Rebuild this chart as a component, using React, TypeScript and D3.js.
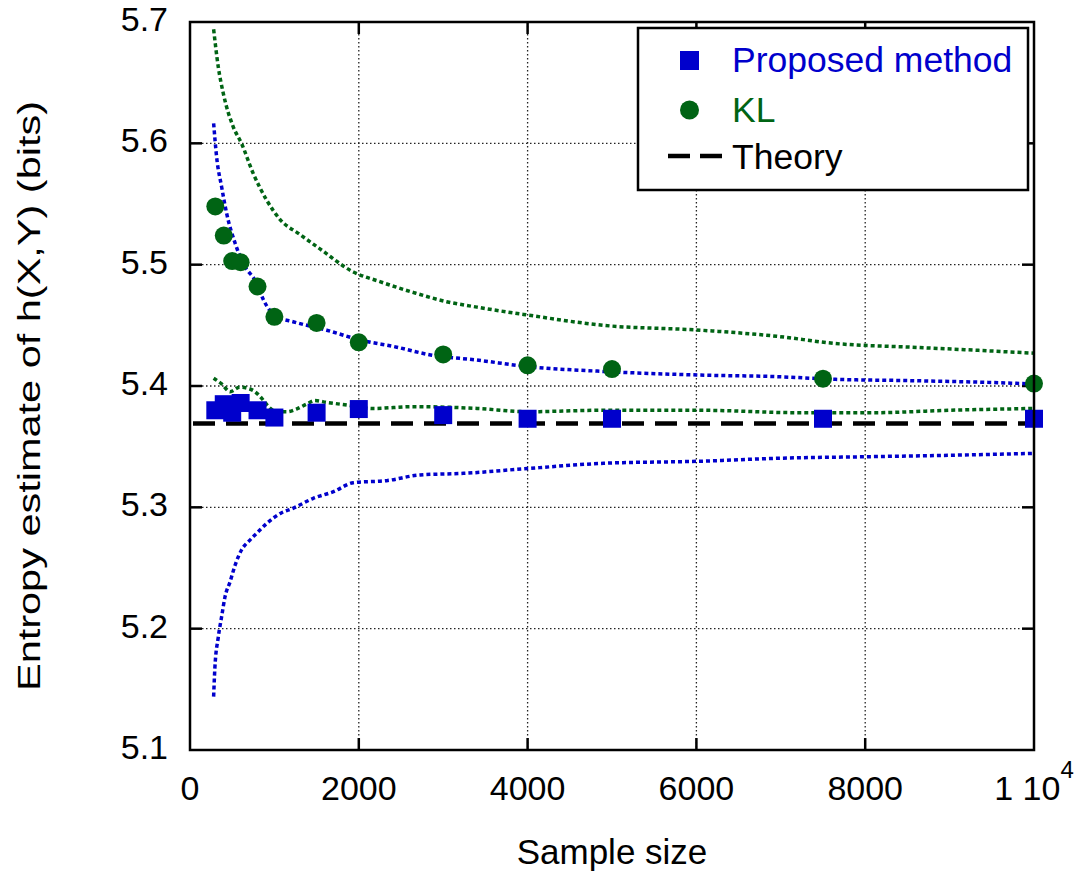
import React from "react";
import * as d3 from "d3";

// marker points
const sampleSizes = [300, 400, 500, 600, 800, 1000, 1500, 2000, 3000, 4000, 5000, 7500, 10000];
const proposedValues = [5.380, 5.385, 5.378, 5.386, 5.380, 5.374, 5.378, 5.381, 5.376, 5.373, 5.373, 5.373, 5.373];
const klValues = [5.548, 5.524, 5.503, 5.502, 5.482, 5.457, 5.452, 5.436, 5.426, 5.417, 5.414, 5.406, 5.402];
const theoryValue = 5.369;

// dotted bound curves
const klUpperN = [280, 335, 395, 510, 610, 750, 910, 1070, 1300, 1540, 1935, 2250, 2650, 3040, 3400, 4000, 4900, 6050, 6950, 7650, 8550, 9450, 10000];
const klUpperV = [5.694, 5.663, 5.641, 5.614, 5.600, 5.575, 5.553, 5.537, 5.525, 5.513, 5.494, 5.486, 5.477, 5.4695, 5.465, 5.4585, 5.450, 5.446, 5.441, 5.435, 5.432, 5.429, 5.427];

const blueUpperN = [280, 315, 375, 435, 535, 630, 790, 870, 1030, 1220, 1620, 2010, 2450, 2850, 3400, 4000, 4900, 6050, 6950, 7650, 8550, 9450, 10000];
const blueUpperV = [5.6165, 5.589, 5.564, 5.542, 5.5176, 5.501, 5.4846, 5.471, 5.457, 5.453, 5.446, 5.438, 5.432, 5.4256, 5.4214, 5.416, 5.412, 5.409, 5.4077, 5.4055, 5.4044, 5.403, 5.4017];

const klLowerN = [280, 375, 475, 590, 690, 770, 850, 930, 1030, 1150, 1260, 1380, 1480, 1620, 1860, 2170, 2650, 3400, 4000, 4900, 6050, 7200, 8100, 9000, 10000];
const klLowerV = [5.4064, 5.4017, 5.3953, 5.399, 5.398, 5.3953, 5.3898, 5.383, 5.3788, 5.3788, 5.381, 5.385, 5.388, 5.3865, 5.3843, 5.3815, 5.383, 5.3815, 5.3788, 5.380, 5.380, 5.378, 5.378, 5.380, 5.3815];

const blueLowerN = [280, 295, 335, 375, 415, 475, 535, 610, 710, 810, 910, 1070, 1220, 1460, 1700, 1935, 2330, 2725, 3240, 4000, 4900, 6050, 6950, 8100, 9000, 10000];
const blueLowerV = [5.144, 5.168, 5.193, 5.21, 5.2263, 5.2387, 5.2525, 5.2648, 5.273, 5.28, 5.2868, 5.295, 5.2992, 5.3074, 5.3129, 5.3203, 5.322, 5.3267, 5.328, 5.332, 5.3363, 5.338, 5.3404, 5.3418, 5.3429, 5.3445];

const xTicks = [0, 2000, 4000, 6000, 8000, 10000];
const yTicks = [5.1, 5.2, 5.3, 5.4, 5.5, 5.6, 5.7];

const BLUE = "#0000cc";
const GREEN = "#006414";
const FONT = "'Liberation Sans', Arial, sans-serif";

const margin = { top: 22, right: 52, bottom: 127, left: 190 };
const W = 1086;
const H = 877;

export default function App() {
  const x = d3.scaleLinear().domain([0, 10000]).range([margin.left, W - margin.right]);
  const y = d3.scaleLinear().domain([5.1, 5.7]).range([H - margin.bottom, margin.top]);
  const line = d3
    .line<[number, number]>()
    .x((d) => x(d[0]))
    .y((d) => y(d[1]))
    .curve(d3.curveMonotoneX);

  const curves = [
    { n: klUpperN, v: klUpperV, color: GREEN },
    { n: klLowerN, v: klLowerV, color: GREEN },
    { n: blueUpperN, v: blueUpperV, color: BLUE },
    { n: blueLowerN, v: blueLowerV, color: BLUE },
  ];

  const x0 = x(0), x1 = x(10000), y0 = y(5.1), y1 = y(5.7);
  const tick = 12;

  return (
    <svg width={W} height={H} style={{ position: "absolute", left: 0, top: 0, background: "#fff" }}>
      {/* grid */}
      <g stroke="#222" strokeWidth={1.3} strokeDasharray="1.5,2.5">
        {xTicks.slice(1, -1).map((t) => (
          <line key={"gx" + t} x1={x(t)} x2={x(t)} y1={y1} y2={y0} />
        ))}
        {yTicks.slice(1, -1).map((t) => (
          <line key={"gy" + t} x1={x0} x2={x1} y1={y(t)} y2={y(t)} />
        ))}
      </g>

      {/* ticks */}
      <g stroke="#000" strokeWidth={2.5}>
        {xTicks.slice(1, -1).map((t) => (
          <g key={"tx" + t}>
            <line x1={x(t)} x2={x(t)} y1={y0} y2={y0 - tick} />
            <line x1={x(t)} x2={x(t)} y1={y1} y2={y1 + tick} />
          </g>
        ))}
        {yTicks.slice(1, -1).map((t) => (
          <g key={"ty" + t}>
            <line x1={x0} x2={x0 + tick} y1={y(t)} y2={y(t)} />
            <line x1={x1} x2={x1 - tick} y1={y(t)} y2={y(t)} />
          </g>
        ))}
      </g>

      {/* bound curves */}
      {curves.map((c, i) => (
        <path
          key={"c" + i}
          d={line(c.n.map((n, j) => [n, c.v[j]] as [number, number])) || ""}
          fill="none"
          stroke={c.color}
          strokeWidth={3.5}
          strokeDasharray="4,3"
        />
      ))}

      {/* theory */}
      <line
        x1={x(0)}
        x2={x(10000)}
        y1={y(theoryValue)}
        y2={y(theoryValue)}
        stroke="#000"
        strokeWidth={4.5}
        strokeDasharray="22,11"
        transform="translate(3,0)"
      />

      {/* proposed squares */}
      {sampleSizes.map((n, i) => (
        <rect key={"s" + n} x={x(n) - 9} y={y(proposedValues[i]) - 9} width={18} height={18} fill={BLUE} />
      ))}

      {/* KL circles */}
      {sampleSizes.map((n, i) => (
        <circle key={"k" + n} cx={x(n)} cy={y(klValues[i])} r={9} fill={GREEN} />
      ))}

      {/* frame */}
      <rect x={x0} y={y1} width={x1 - x0} height={y0 - y1} fill="none" stroke="#000" strokeWidth={2.5} />

      {/* tick labels */}
      <g fontFamily={FONT} fontSize={34} fill="#000">
        {yTicks.map((t) => (
          <text key={"ly" + t} x={168} y={y(t) + 9} textAnchor="end">
            {t.toFixed(1)}
          </text>
        ))}
        {xTicks.slice(0, -1).map((t) => (
          <text key={"lx" + t} x={x(t)} y={800} textAnchor="middle">
            {t}
          </text>
        ))}
        <text x={x(10000)} y={800} textAnchor="middle">
          1 10<tspan fontSize={24} dy={-22}>4</tspan>
        </text>
      </g>

      {/* axis titles */}
      <text x={x(5000)} y={864} textAnchor="middle" fontFamily={FONT} fontSize={35}>
        Sample size
      </text>
      <text
        transform={`translate(40, 396) rotate(-90)`}
        textAnchor="middle"
        fontFamily={FONT}
        fontSize={31}
        textLength={590}
        lengthAdjust="spacingAndGlyphs"
      >
        Entropy estimate of h(X,Y) (bits)
      </text>

      {/* legend */}
      <g fontFamily={FONT} fontSize={35.5}>
        <rect x={638} y={28} width={390} height={162} fill="#fff" stroke="#000" strokeWidth={2.5} />
        <rect x={680} y={51} width={19} height={19} fill={BLUE} />
        <text x={732} y={72} fill={BLUE}>Proposed method</text>
        <circle cx={689.5} cy={110} r={9.5} fill={GREEN} />
        <text x={732} y={122} fill={GREEN}>KL</text>
        <line x1={668} x2={722} y1={156} y2={156} stroke="#000" strokeWidth={4.5} strokeDasharray="22,10" />
        <text x={732} y={169} fill="#000">Theory</text>
      </g>
    </svg>
  );
}
